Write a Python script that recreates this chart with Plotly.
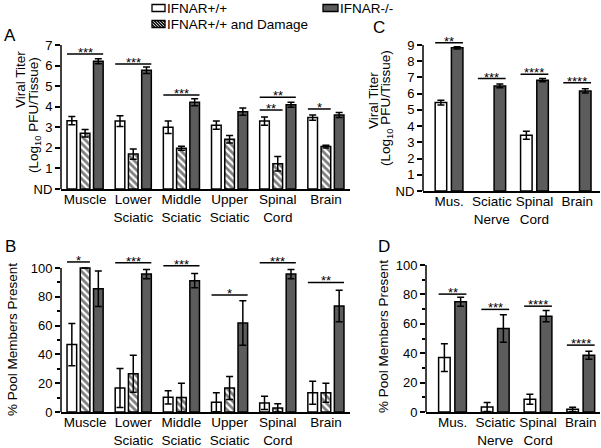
import plotly.graph_objects as go

W, H = 601, 448
FONT = "Liberation Sans, Arial, sans-serif"
DARK = "#5c5c5c"

# ---------------- data ----------------
tissues_ab = ["Muscle", "Lower Sciatic", "Middle Sciatic", "Upper Sciatic", "Spinal Cord", "Brain"]
ticks_ab = ["Muscle", "Lower<br>Sciatic", "Middle<br>Sciatic", "Upper<br>Sciatic", "Spinal<br>Cord", "Brain"]
tissues_cd = ["Mus.", "Sciatic Nerve", "Spinal Cord", "Brain"]
ticks_cd = ["Mus.", "Sciatic<br>Nerve", "Spinal<br>Cord", "Brain"]

series_names = {"wt": "IFNAR+/+", "dmg": "IFNAR+/+ and Damage", "ko": "IFNAR-/-"}

# Panel A: viral titer (log10 PFU/tissue)
titer_wt = [3.32, 3.30, 3.00, 3.10, 3.30, 3.47]
titer_wt_err = [0.20, 0.26, 0.30, 0.20, 0.20, 0.13]
titer_dmg = [2.71, 1.70, 1.98, 2.42, 1.23, 2.06]
titer_dmg_err = [0.18, 0.25, 0.10, 0.18, 0.35, 0.07]
titer_ko = [6.21, 5.77, 4.22, 3.76, 4.10, 3.60]
titer_ko_err = [0.12, 0.16, 0.17, 0.18, 0.12, 0.12]

# Panel B: % pool members present
pool_wt = [46.8, 16.7, 10.2, 6.7, 6.3, 13.4]
pool_wt_err = [14.6, 13.5, 4.6, 6.6, 4.6, 8.0]
pool_dmg = [100, 26.6, 10.0, 16.7, 2.8, 13.4]
pool_dmg_err = [0, 12.8, 10.0, 8.0, 3.0, 6.6]
pool_ko = [85.6, 95.8, 91.2, 61.8, 95.8, 73.6]
pool_ko_err = [12.4, 3.2, 5.0, 15.4, 3.2, 11.0]

# Panel C: viral titer
titerC_wt = [5.45, None, 3.44, None]
titerC_wt_err = [0.15, None, 0.25, None]
titerC_ko = [8.83, 6.48, 6.83, 6.17]
titerC_ko_err = [0.07, 0.12, 0.10, 0.13]

# Panel D: % pool members present
poolD_wt = [37.0, 3.4, 8.6, 1.8]
poolD_wt_err = [9.4, 3.0, 3.4, 1.5]
poolD_ko = [75.0, 56.8, 65.2, 38.6]
poolD_ko_err = [3.0, 9.4, 3.8, 2.7]

# significance: (category index, from series, to series, height, label)
sig_A = [(0, "wt", "ko", 6.56, "***"), (1, "wt", "ko", 6.08, "***"), (2, "wt", "ko", 4.57, "***"),
         (4, "wt", "dmg", 3.84, "**"), (4, "wt", "ko", 4.46, "**"), (5, "wt", "dmg", 3.89, "*")]
sig_B = [(0, "wt", "dmg", 104.2, "*"), (1, "wt", "ko", 103.6, "***"), (2, "wt", "ko", 101.5, "***"),
         (3, "wt", "ko", 81.3, "*"), (4, "wt", "ko", 103.6, "***"), (5, "wt", "ko", 90.0, "**")]
sig_C = [(0, "wt", "ko", 9.14, "**"), (1, "wt", "ko", 6.93, "***"), (2, "wt", "ko", 7.20, "****"),
         (3, "wt", "ko", 6.67, "****")]
sig_D = [(0, "wt", "ko", 80.2, "**"), (1, "wt", "ko", 69.8, "***"), (2, "wt", "ko", 72.0, "****"),
         (3, "wt", "ko", 45.5, "****")]

yticks_A = [0, 1, 2, 3, 4, 5, 6, 7]
yticktext_A = ["ND", "1", "2", "3", "4", "5", "6", "7"]
yticks_C = [0, 1, 2, 3, 4, 5, 6, 7, 8, 9]
yticktext_C = ["ND", "1", "2", "3", "4", "5", "6", "7", "8", "9"]
yticks_pct = [0, 20, 40, 60, 80, 100]
yminor_pct = [10, 30, 50, 70, 90]

# ---------------- layout helpers ----------------
def fx(p):
    return p / W

def fy(p):
    return 1 - p / H

off_ab = {"wt": -0.275, "dmg": 0.0, "ko": 0.275}
w_ab = 0.2
off_cd = {"wt": -0.19, "ko": 0.19}
w_cd = 0.27

styles = {
    "wt": dict(color="white", line=dict(color="black", width=1.5)),
    "dmg": dict(color="white", line=dict(color="black", width=1.5),
                pattern=dict(shape="\\", fgcolor="black", bgcolor="white", size=5, solidity=0.55)),
    "ko": dict(color=DARK, line=dict(color="black", width=1.5)),
}

fig = go.Figure()

def add_bars(axn, cats, data, offs, width):
    xa = "x" if axn == 1 else f"x{axn}"
    ya = "y" if axn == 1 else f"y{axn}"
    for key, (vals, errs) in data.items():
        fig.add_trace(go.Bar(
            x=cats, y=vals, xaxis=xa, yaxis=ya,
            name=series_names[key],
            marker=styles[key],
            offset=offs[key] - width / 2, width=width,
            error_y=dict(type="data", array=errs, visible=True, color="black",
                         thickness=1.5, width=3.5),
            showlegend=False,
        ))

add_bars(1, tissues_ab, {"wt": (titer_wt, titer_wt_err), "dmg": (titer_dmg, titer_dmg_err),
                         "ko": (titer_ko, titer_ko_err)}, off_ab, w_ab)
add_bars(2, tissues_ab, {"wt": (pool_wt, pool_wt_err), "dmg": (pool_dmg, pool_dmg_err),
                         "ko": (pool_ko, pool_ko_err)}, off_ab, w_ab)
add_bars(3, tissues_cd, {"wt": (titerC_wt, titerC_wt_err), "ko": (titerC_ko, titerC_ko_err)},
         off_cd, w_cd)
add_bars(4, tissues_cd, {"wt": (poolD_wt, poolD_wt_err), "ko": (poolD_ko, poolD_ko_err)},
         off_cd, w_cd)

# panels: axis number -> geometry (pixels)
panels = {
    1: dict(xpx=(61, 350), ypx=(189, 45), yrange=[0, 7], xrange=[-0.5, 5.5], ytop=7,
            cats=tissues_ab, ticks=ticks_ab, yt=yticks_A, ytt=yticktext_A, minor=None),
    2: dict(xpx=(61, 350), ypx=(412, 412 - 107 * 1.44), yrange=[0, 107], xrange=[-0.5, 5.5], ytop=100,
            cats=tissues_ab, ticks=ticks_ab, yt=yticks_pct, ytt=[str(v) for v in yticks_pct], minor=yminor_pct),
    3: dict(xpx=(423, 600), ypx=(191, 191 - 9.3 * 16.22), yrange=[0, 9.3], xrange=[-0.61, 3.535], ytop=9,
            cats=tissues_cd, ticks=ticks_cd, yt=yticks_C, ytt=yticktext_C, minor=None),
    4: dict(xpx=(426, 600), ypx=(412, 265), yrange=[0, 100], xrange=[-0.62, 3.45], ytop=100,
            cats=tissues_cd, ticks=ticks_cd, yt=yticks_pct, ytt=[str(v) for v in yticks_pct], minor=yminor_pct),
}

layout_axes = {}
shapes = []
annotations = []
for n, p in panels.items():
    xk = "xaxis" if n == 1 else f"xaxis{n}"
    yk = "yaxis" if n == 1 else f"yaxis{n}"
    xa = "x" if n == 1 else f"x{n}"
    ya = "y" if n == 1 else f"y{n}"
    layout_axes[xk] = dict(
        domain=[fx(p["xpx"][0]), fx(p["xpx"][1])], anchor=ya, type="category",
        range=p["xrange"], categoryorder="array", categoryarray=p["cats"],
        tickmode="array", tickvals=p["cats"], ticktext=p["ticks"],
        showline=True, linecolor="black", linewidth=1.5, ticks="", showgrid=False,
        zeroline=False, ticklabelstandoff=-3, automargin=False,
        tickfont=dict(size=13.5, color="black", family=FONT),
    )
    ydict = dict(
        domain=[fy(p["ypx"][0]), fy(p["ypx"][1])], anchor=xa, range=p["yrange"],
        tickmode="array", tickvals=p["yt"], ticktext=p["ytt"], ticks="outside",
        ticklen=5, tickwidth=1.5, tickcolor="black", showline=False, showgrid=False,
        zeroline=False, automargin=False, tickfont=dict(size=13, color="black", family=FONT),
    )
    if p["minor"]:
        ydict["minor"] = dict(tickmode="array", tickvals=p["minor"], ticks="outside",
                              ticklen=3, tickwidth=1.5, tickcolor="black", showgrid=False)
    layout_axes[yk] = ydict
    # y axis line up to the top tick
    shapes.append(dict(type="line", xref="paper", yref=ya, x0=fx(p["xpx"][0]), x1=fx(p["xpx"][0]),
                       y0=0, y1=p["ytop"], line=dict(color="black", width=1.5)))

def add_sig(n, sigs, offs, width):
    xa = "x" if n == 1 else f"x{n}"
    ya = "y" if n == 1 else f"y{n}"
    for idx, a, b, h, lab in sigs:
        x0 = idx + offs[a] - width / 2
        x1 = idx + offs[b] + width / 2
        shapes.append(dict(type="line", xref=xa, yref=ya, x0=x0, x1=x1, y0=h, y1=h,
                           line=dict(color="black", width=1.5)))
        annotations.append(dict(xref=xa, yref=ya, x=(x0 + x1) / 2, y=h, text=lab, showarrow=False,
                                xanchor="center", yanchor="bottom", yshift=-8,
                                font=dict(size=13, color="black", family=FONT)))

add_sig(1, sig_A, off_ab, w_ab)
add_sig(2, sig_B, off_ab, w_ab)
add_sig(3, sig_C, off_cd, w_cd)
add_sig(4, sig_D, off_cd, w_cd)

# panel letters
for lab, x, y in [("A", 10, 35.5), ("B", 10, 246), ("C", 379, 27.5), ("D", 384, 246.5)]:
    annotations.append(dict(xref="paper", yref="paper", x=fx(x), y=fy(y), text=lab, showarrow=False,
                            xanchor="center", yanchor="middle", font=dict(size=17, color="black", family=FONT)))

# axis titles
def vtitle(text, x, y):
    annotations.append(dict(xref="paper", yref="paper", x=fx(x), y=fy(y), text=text, showarrow=False,
                            textangle=-90, xanchor="center", yanchor="middle",
                            font=dict(size=13.5, color="black", family=FONT)))

vtitle("Viral Titer", 20, 80)
vtitle("(Log<sub>10</sub> PFU/Tissue)", 34, 115)
vtitle("Viral Titer", 373, 101)
vtitle("(Log<sub>10</sub> PFU/Tissue)", 386, 108)
vtitle("% Pool Members Present", 12, 340)
vtitle("% Pool Members Present", 383, 337)

# ---------------- legend (swatch + label) ----------------
# key, swatch left, swatch right, row centre, top-anchored text
legend_items = [("wt", 152, 165, 8, True), ("dmg", 152, 165, 24, False), ("ko", 323, 338, 8, True)]
for key, sx0, sx1, cy, top_row in legend_items:
    fill = DARK if key == "ko" else "white"
    shapes.append(dict(type="rect", xref="paper", yref="paper", x0=fx(sx0), x1=fx(sx1),
                       y0=fy(cy + 3.5), y1=fy(cy - 3.5), fillcolor=fill,
                       line=dict(color="black", width=1.3), layer="above"))
    if key == "dmg":
        # diagonal hatch inside the swatch, clipped to the box
        top, bot = cy - 3.5, cy + 3.5
        hgt = bot - top
        segs = []
        s = sx0 - hgt
        while s < sx1:
            xa0, ya0 = s, top
            xa1, ya1 = s + hgt, bot
            if xa0 < sx0:
                ya0 = top + (sx0 - xa0)
                xa0 = sx0
            if xa1 > sx1:
                ya1 = bot - (xa1 - sx1)
                xa1 = sx1
            if xa1 > xa0:
                segs.append(f"M{fx(xa0):.5f},{fy(ya0):.5f}L{fx(xa1):.5f},{fy(ya1):.5f}")
            s += 3
        shapes.append(dict(type="path", xref="paper", yref="paper", path="".join(segs),
                           line=dict(color="black", width=1.4), layer="above"))
    if top_row:
        ann = dict(y=fy(0.5), yanchor="top", borderpad=0)
    else:
        ann = dict(y=fy(cy), yanchor="middle", borderpad=0)
    annotations.append(dict(xref="paper", yref="paper", x=fx(sx1 + 1), text=series_names[key],
                            showarrow=False, xanchor="left",
                            font=dict(size=13.5, color="black", family=FONT), **ann))

fig.update_layout(
    width=W, height=H, margin=dict(l=0, r=0, t=0, b=0, pad=0, autoexpand=False),
    paper_bgcolor="white", plot_bgcolor="white",
    barmode="overlay", showlegend=False,
    font=dict(family=FONT, color="black", size=13),
    shapes=shapes, annotations=annotations,
    **layout_axes,
)

fig.write_html("out.html", config={"displayModeBar": False},
               post_script="document.body.style.margin='0';document.body.style.overflow='hidden';")
